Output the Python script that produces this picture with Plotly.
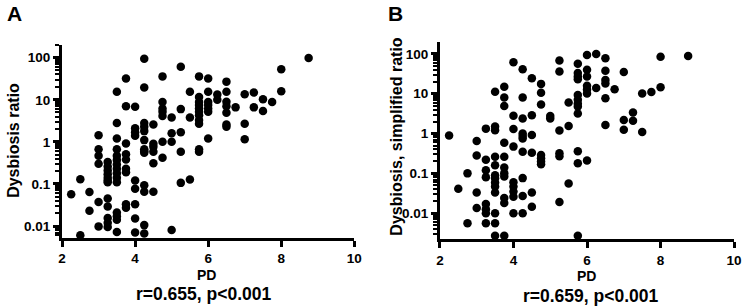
import plotly.graph_objects as go

# ---------------- data ----------------
pd_a = [2.25,
        2.5, 2.5,
        2.75, 2.75,
        3, 3, 3, 3, 3, 3,
        3.25, 3.25, 3.25, 3.25, 3.25, 3.25, 3.25, 3.25, 3.25, 3.25, 3.25, 3.25,
        3.5, 3.5, 3.5, 3.5, 3.5, 3.5, 3.5, 3.5, 3.5, 3.5, 3.5, 3.5, 3.5, 3.5, 3.5,
        3.75, 3.75, 3.75, 3.75, 3.75, 3.75, 3.75, 3.75, 3.75,
        4, 4, 4, 4, 4, 4, 4, 4, 4,
        4.25, 4.25, 4.25, 4.25, 4.25, 4.25, 4.25, 4.25, 4.25, 4.25, 4.25, 4.25, 4.25,
        4.5, 4.5, 4.5, 4.5, 4.5, 4.5,
        4.75, 4.75, 4.75, 4.75, 4.75, 4.75, 4.75,
        5, 5, 5, 5,
        5.25, 5.25, 5.25, 5.25, 5.25,
        5.5, 5.5, 5.5,
        5.75, 5.75, 5.75, 5.75, 5.75, 5.75, 5.75, 5.75, 5.75, 5.75, 5.75, 5.75,
        6, 6, 6, 6, 6, 6, 6,
        6.25, 6.25,
        6.5, 6.5, 6.5, 6.5, 6.5, 6.5, 6.5,
        6.75,
        7, 7, 7,
        7.25, 7.25,
        7.5, 7.5,
        7.75,
        8, 8,
        8.75]
ratio_a = [0.057,
           0.13, 0.006,
           0.064, 0.023,
           1.44, 0.67, 0.47, 0.3, 0.037, 0.0098,
           0.33, 0.26, 0.21, 0.17, 0.14, 0.12, 0.11, 0.045, 0.029, 0.0155, 0.012, 0.0095,
           15.5, 2.8, 1.2, 0.67, 0.47, 0.37, 0.29, 0.23, 0.18, 0.14, 0.11, 0.021, 0.017, 0.014, 0.0072,
           32, 7, 0.91, 0.51, 0.38, 0.23, 0.19, 0.033, 0.027,
           6.8, 2.1, 1.7, 1.4, 0.12, 0.077, 0.033, 0.015, 0.007,
           95, 19.6, 2.8, 2.3, 1.8, 1.1, 0.67, 0.6, 0.55, 0.093, 0.065, 0.0105, 0.0066,
           2.6, 0.9, 0.76, 0.58, 0.31, 0.065,
           36, 8.9, 6.2, 5.2, 4.1, 1.0, 0.42,
           3.8, 1.6, 1.0, 0.008,
           61, 6, 1.7, 0.58, 0.106,
           15.5, 3.8, 0.127,
           36, 11.7, 8.9, 7.5, 6.2, 5.2, 4.3, 3.3, 2.7, 0.67, 0.58, 0.005,
           32, 15.5, 8.9, 7.5, 6.2, 5.2, 1.2,
           13.3, 10,
           27, 15.5, 9, 7, 4.9, 2.6, 2.3,
           6.6,
           13.6, 2.7, 1.15,
           14.9, 6.6,
           10.3, 5.4,
           8.9,
           53, 16,
           99]

pd_b = [2.25,
        2.5,
        2.75, 2.75,
        3, 3, 3, 3,
        3.25, 3.25, 3.25, 3.25, 3.25, 3.25, 3.25, 3.25,
        3.5, 3.5, 3.5, 3.5, 3.5, 3.5, 3.5, 3.5, 3.5, 3.5, 3.5, 3.5, 3.5,
        3.75, 3.75, 3.75, 3.75, 3.75, 3.75, 3.75, 3.75, 3.75, 3.75, 3.75,
        4, 4, 4, 4, 4, 4, 4, 4, 4,
        4.25, 4.25, 4.25, 4.25, 4.25, 4.25, 4.25, 4.25, 4.25, 4.25,
        4.5, 4.5, 4.5, 4.5, 4.5, 4.5,
        4.75, 4.75, 4.75, 4.75, 4.75, 4.75, 4.75,
        5, 5,
        5.25, 5.25, 5.25, 5.25, 5.25, 5.25,
        5.5, 5.5, 5.5,
        5.75, 5.75, 5.75, 5.75, 5.75, 5.75, 5.75, 5.75, 5.75, 5.75, 5.75, 5.75,
        6, 6, 6, 6, 6, 6, 6,
        6.25, 6.25,
        6.5, 6.5, 6.5, 6.5, 6.5, 6.5,
        6.75,
        7, 7, 7,
        7.25, 7.25,
        7.5, 7.5,
        7.75,
        8, 8,
        8.75]
ratio_b = [0.9,
           0.041,
           0.1, 0.0056,
           0.65, 0.28, 0.033, 0.0135,
           1.33, 0.22, 0.12, 0.08, 0.017, 0.0125, 0.01, 0.0056,
           11.2, 1.5, 1.22, 0.26, 0.16, 0.09, 0.075, 0.059, 0.047, 0.033, 0.01, 0.0056, 0.0027,
           15, 8.1, 4.9, 0.59, 0.26, 0.14, 0.1, 0.083, 0.024, 0.018, 0.0027,
           62, 2.8, 1.3, 0.47, 0.06, 0.047, 0.035, 0.026, 0.01,
           41, 8.1, 2.4, 1.0, 0.87, 0.75, 0.35, 0.076, 0.027, 0.01,
           24.6, 2.9, 0.92, 0.33, 0.033, 0.0145,
           17.7, 10.6, 5.4, 0.29, 0.24, 0.2, 0.17,
           2.75, 2.4,
           68, 36, 1.2, 0.32, 0.27, 0.019,
           6, 1.55, 0.056,
           57, 33, 27, 23, 9.3, 7.1, 5.7, 4.8, 3.2, 0.36, 0.18, 0.0027,
           94, 40, 27, 15.8, 12.8, 10.2, 0.21,
           100, 14,
           78, 38, 22, 18, 7.7, 1.65,
           13,
           35, 2.2, 1.25,
           3.4, 2.1,
           10.2, 1.1,
           11,
           85, 14.5,
           89]

x_ticks = [2, 4, 6, 8, 10]
y_tickvals = [0.01, 0.1, 1, 10, 100]
y_ticktext = ["0.01", "0.1", "1", "10", "100"]
panel_letters = ["A", "B"]
y_titles = ["Dysbiosis ratio", "Dysbiosis, simplified ratio"]
x_title = "PD"
stats = ["r=0.655, p<0.001", "r=0.659, p<0.001"]

# ---------------- figure ----------------
W, H = 750, 306
FONT = "Liberation Sans, Arial, Helvetica, sans-serif"

minor_vals = [m * 10 ** e for e in range(-3, 3) for m in range(2, 10)]

fig = go.Figure()
fig.add_trace(go.Scatter(x=pd_a, y=ratio_a, mode="markers", xaxis="x", yaxis="y",
                         marker=dict(color="black", size=8.5, line=dict(width=0)),
                         cliponaxis=False, showlegend=False))
fig.add_trace(go.Scatter(x=pd_b, y=ratio_b, mode="markers", xaxis="x2", yaxis="y2",
                         marker=dict(color="black", size=8.5, line=dict(width=0)),
                         cliponaxis=False, showlegend=False))

def px_x(p):
    return p / W

def px_y(p):
    return 1 - p / H

tick_font = dict(family=FONT, size=13.5, color="black", weight="bold")
xaxis_common = dict(range=[2, 10], tickvals=x_ticks, ticks="outside", ticklen=6, tickwidth=2.5,
                    tickcolor="black", showline=True, linecolor="black", linewidth=3,
                    showgrid=False, zeroline=False, mirror=False, tickfont=tick_font)
yaxis_common = dict(type="log", tickvals=y_tickvals, ticktext=y_ticktext, ticks="outside",
                    ticklen=6, tickwidth=2.5, tickcolor="black", showline=True, linecolor="black",
                    linewidth=3, showgrid=False, zeroline=False,
                    minor=dict(tickvals=minor_vals, ticks="outside", ticklen=4, tickwidth=1.5,
                               tickcolor="black", showgrid=False),
                    tickfont=tick_font)

fig.update_layout(
    width=W, height=H,
    margin=dict(l=0, r=0, t=0, b=0),
    paper_bgcolor="white", plot_bgcolor="white",
    xaxis=dict(domain=[px_x(59), px_x(356)], anchor="y", **xaxis_common),
    yaxis=dict(domain=[px_y(238), px_y(45)], anchor="x", range=[-2.285, 2.302], **yaxis_common),
    xaxis2=dict(domain=[px_x(443), px_x(742)], anchor="y2", **xaxis_common),
    yaxis2=dict(domain=[px_y(239.3), px_y(42)], anchor="x2", range=[-2.656, 2.30], **yaxis_common),
)

ann = []
ann.append(dict(x=px_x(1), y=px_y(0), text="<b>" + panel_letters[0] + "</b>", xanchor="left", yanchor="top",
                font=dict(family=FONT, size=21, color="black")))
ann.append(dict(x=px_x(388), y=px_y(0), text="<b>" + panel_letters[1] + "</b>", xanchor="left", yanchor="top",
                font=dict(family=FONT, size=21, color="black")))
ann.append(dict(x=px_x(206), y=px_y(274.5), text="<b>" + x_title + "</b>", xanchor="center", yanchor="middle",
                font=dict(family=FONT, size=14, color="black")))
ann.append(dict(x=px_x(592), y=px_y(276), text="<b>" + x_title + "</b>", xanchor="center", yanchor="middle",
                font=dict(family=FONT, size=14, color="black")))
ann.append(dict(x=px_x(203), y=px_y(294), text="<b>" + stats[0] + "</b>", xanchor="center", yanchor="middle",
                font=dict(family=FONT, size=17.5, color="black")))
ann.append(dict(x=px_x(597), y=px_y(295.5), text="<b>" + stats[1] + "</b>", xanchor="center", yanchor="middle",
                font=dict(family=FONT, size=17.5, color="black")))
ann.append(dict(x=px_x(10), y=px_y(140), text="<b>" + y_titles[0] + "</b>", textangle=-90,
                xanchor="center", yanchor="middle", font=dict(family=FONT, size=16, color="black")))
ann.append(dict(x=px_x(398), y=px_y(136), text="<b>" + y_titles[1] + "</b>", textangle=-90,
                xanchor="center", yanchor="middle", font=dict(family=FONT, size=16, color="black")))
for a in ann:
    a.update(xref="paper", yref="paper", showarrow=False)
fig.update_layout(annotations=ann)

fig.write_html("out.html", config={"displayModeBar": False},
               post_script="document.body.style.margin='0';")
